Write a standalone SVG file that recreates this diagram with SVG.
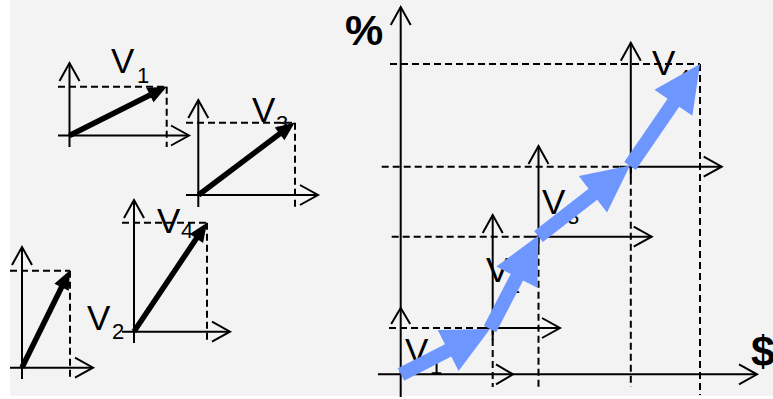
<svg xmlns="http://www.w3.org/2000/svg" width="773" height="399" viewBox="0 0 773 399">
<defs>
<style>
.ax{stroke:#000;stroke-width:2;fill:none}
.axa{stroke:#000;stroke-width:2;fill:none;marker-end:url(#open)}
.ds{stroke:#000;stroke-width:2;fill:none;stroke-dasharray:7 4}
.vec{stroke:#000;stroke-width:5.5;fill:none;marker-end:url(#solid)}
.blue{fill:#6e96ff;stroke:none}
.lbl{font-family:"Liberation Sans",Arial,sans-serif;font-size:35px;fill:#000}
.sub{font-size:22px}
.big{font-family:"Liberation Sans",Arial,sans-serif;font-size:43px;font-weight:bold;fill:#000}
</style>
<marker id="open" markerUnits="userSpaceOnUse" markerWidth="24" markerHeight="24" viewBox="-2 -2 22 24" refX="18" refY="10" orient="auto" overflow="visible">
<path d="M0,0 L18,10 L0,20" fill="none" stroke="#000" stroke-width="2"/>
</marker>
<marker id="solid" markerUnits="userSpaceOnUse" markerWidth="20" markerHeight="16" viewBox="0 0 20 16" refX="8" refY="8" orient="auto" overflow="visible">
<path d="M0,0 L19,8 L0,16 z" fill="#000"/>
</marker>
</defs>
<rect x="10" y="0" width="763" height="396" fill="#f3f3f3"/>

<g id="small-v1">
<line class="ds" x1="58" y1="86.7" x2="166.7" y2="86.7"/>
<line class="ds" x1="166.7" y1="86.7" x2="166.7" y2="147"/>
<line class="axa" x1="69.5" y1="147" x2="69.5" y2="63"/>
<line class="axa" x1="58" y1="135.5" x2="189" y2="135.5"/>
<text class="lbl" x="111" y="73.3">V</text><text class="lbl sub" x="137" y="83.3">1</text>
</g>
<g id="small-v3">
<line class="ds" x1="186" y1="122.7" x2="295" y2="122.7"/>
<line class="ds" x1="295" y1="122.7" x2="295" y2="207"/>
<line class="axa" x1="198.3" y1="207" x2="198.3" y2="100"/>
<line class="axa" x1="186" y1="195" x2="318" y2="195"/>
<text class="lbl" x="252" y="122">V</text><text class="lbl sub" x="276" y="131">3</text>
</g>
<g id="small-v4">
<text class="lbl" x="157" y="233">V</text><text class="lbl sub" x="181" y="238">4</text>
<text class="lbl" x="87" y="330">V</text><text class="lbl sub" x="112" y="339">2</text>
<line class="ds" x1="122" y1="222.7" x2="207" y2="222.7"/>
<line class="ds" x1="207" y1="222.7" x2="207" y2="343"/>
<line class="axa" x1="134" y1="343" x2="134" y2="200"/>
<line class="axa" x1="122" y1="331.7" x2="230" y2="331.7"/>
</g>
<g id="small-v2">
<line class="ds" x1="10" y1="270.7" x2="70" y2="270.7"/>
<line class="ds" x1="70" y1="270.7" x2="70" y2="379"/>
<line class="axa" x1="22" y1="379" x2="22" y2="247"/>
<line class="axa" x1="10" y1="367.7" x2="93" y2="367.7"/>
</g>

<g id="chart">
<line class="ds" x1="390" y1="64" x2="700" y2="64"/>
<line class="ds" x1="700" y1="64" x2="700" y2="395"/>
<line class="ds" x1="381.7" y1="166.7" x2="620" y2="166.7"/>
<line class="ds" x1="630.8" y1="166.7" x2="630.8" y2="387"/>
<line class="ds" x1="391.7" y1="236.7" x2="527" y2="236.7"/>
<line class="ds" x1="538.5" y1="236.7" x2="538.5" y2="387"/>
<line class="ds" x1="389" y1="328" x2="481" y2="328"/>
<line class="ds" x1="492.7" y1="328" x2="492.7" y2="387"/>
<line class="axa" x1="400.7" y1="397" x2="400.7" y2="7"/>
<line class="axa" x1="378" y1="374.3" x2="757" y2="374.3"/>
<polyline class="ax" points="391.2,324 400.7,308 410.2,324"/>
<polyline class="ax" points="496,364.3 513,374.3 496,384.3"/>
<line class="axa" x1="492.7" y1="340" x2="492.7" y2="215"/>
<line class="axa" x1="481" y1="328" x2="560" y2="328"/>
<line class="axa" x1="538.5" y1="248" x2="538.5" y2="146"/>
<line class="axa" x1="527" y1="236.7" x2="651.7" y2="236.7"/>
<line class="axa" x1="630.8" y1="178" x2="630.8" y2="42.7"/>
<line class="axa" x1="620" y1="166.7" x2="721.7" y2="166.7"/>
<text class="big" x="345" y="45">%</text>
<text class="big" x="751" y="366">$</text>
<text class="lbl" x="405" y="363">V</text><text class="lbl sub" x="430" y="374">1</text>
<text class="lbl" x="486" y="282">V</text><text class="lbl sub" x="508" y="293">2</text>
<text class="lbl" x="542" y="214">V</text><text class="lbl sub" x="567" y="224">3</text>
<text class="lbl" x="652" y="75">V</text><text class="lbl sub" x="678" y="85">4</text>
</g>

<g id="connectors">
<line class="vec" x1="69.5" y1="135.5" x2="157.1" y2="91.5"/>
<line class="vec" x1="198.5" y1="195" x2="286" y2="129"/>
<line class="vec" x1="134" y1="331.5" x2="200.9" y2="231.8"/>
<line class="vec" x1="22" y1="367.5" x2="65.1" y2="280"/>
<polygon class="blue" points="397.8,368.3 445,344.2 437.7,329.9 490,329 458.6,370.9 451.3,356.6 404.2,380.7"/>
<polygon class="blue" points="483.8,325.8 510.7,274 496.4,266.6 538.5,235.5 537.3,287.8 523.1,280.4 496.2,332.2"/>
<polygon class="blue" points="534.2,231 588.6,188.8 578.8,176.1 630,165.5 607,212.5 597.2,199.8 542.8,242"/>
<polygon class="blue" points="624.2,162 667.6,98.8 654.5,89.7 700,64 692.4,115.8 679.2,106.7 635.8,170"/>
</g>
</svg>
